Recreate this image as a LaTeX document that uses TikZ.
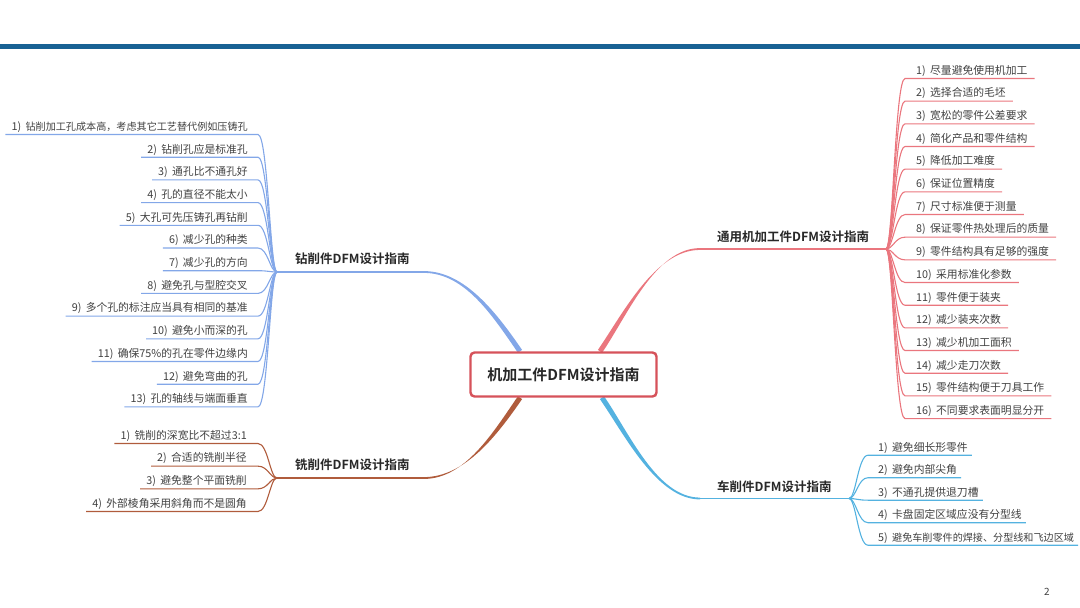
\documentclass[tikz,border=0pt]{standalone}
\usepackage{fontspec}
\setmainfont{Noto Sans CJK SC}[BoldFont={Noto Sans CJK SC Bold}]
\usetikzlibrary{calc,backgrounds}
\definecolor{barblue}{RGB}{24,98,148}
\definecolor{cblue}{RGB}{131,167,232}
\definecolor{cbrown}{RGB}{176,92,60}
\definecolor{cpink}{RGB}{234,118,126}
\definecolor{ccyan}{RGB}{84,178,224}
\definecolor{rootred}{RGB}{214,82,90}
\definecolor{itemgray}{RGB}{64,64,64}
\definecolor{lblgray}{RGB}{40,40,40}
% tapered branch: #1 start, #2 control 1, #3 control 2, #4 end, #5 start half-width offset, #6 colour
\newcommand\taper[6]{%
  \fill[#6] ($(#1)+#5$) .. controls ($(#2)+#5$) and ($(#3)+(0,-0.9)$) .. ($(#4)+(0,-0.9)$)
    -- ($(#4)+(0,0.9)$) .. controls ($(#3)+(0,0.9)$) and ($(#2)-#5$) .. ($(#1)-#5$) -- cycle;}
\newcommand\nm[1]{#1)\hspace{.4em}}
\newcommand\smtxt{\fontsize{10.1}{13}\selectfont}
\begin{document}
\begin{tikzpicture}[x=1pt,y=-1pt,
  item/.style={font=\fontsize{10.8}{13}\selectfont, text=itemgray, inner sep=0pt},
  lbl/.style={font=\fontsize{12.5}{15}\selectfont\bfseries, text=lblgray, inner sep=0pt},
  rootbox/.style={draw=rootred, line width=2.4pt, rounded corners=4pt, fill=white,
    minimum width=186pt, minimum height=44pt, inner sep=0pt,
    font=\fontsize{15}{18}\selectfont\bfseries, text=lblgray},
  sub/.style={line width=1.1pt},
  stemline/.style={line width=1.6pt}]
\useasboundingbox (0,0) rectangle (1080,608);
\fill[barblue] (0,43.5) rectangle (1080,49);

% root
\node[rootbox] (root) at (563.5,374.5) {机加工件DFM设计指南};
\coordinate (tls) at ($(root.north)+(-43.5,0)$);
\coordinate (trs) at ($(root.north)+(36.5,0)$);
\coordinate (bls) at ($(root.south)+(-43.5,0)$);
\coordinate (brs) at ($(root.south)+(38.5,0)$);

% branch labels
\node[lbl, anchor=base west] (tl) at (295,263.5) {钻削件DFM设计指南};
\node[lbl, anchor=base west] (bl) at (295,469.5) {铣削件DFM设计指南};
\node[lbl, anchor=base west] (tr) at (717,241.5) {通用机加工件DFM设计指南};
\node[lbl, anchor=base west] (br) at (717,491.5) {车削件DFM设计指南};

\coordinate (tlj) at (424,272);   \coordinate (tlstem) at (277,272);
\coordinate (blj) at (424,478);   \coordinate (blstem) at (277,478);
\coordinate (trj) at (700,249);   \coordinate (trstem) at (886,249);
\coordinate (brj) at (700,498.5); \coordinate (brstem) at (849,498.5);

\begin{scope}[on background layer]
  \taper{tls}{495,315}{465,272}{tlj}{(2.07,-1.4)}{cblue}
  \taper{bls}{495,434}{465,478}{blj}{(2.07,1.4)}{cbrown}
  \taper{trs}{625,315}{655,249}{trj}{(2.07,1.4)}{cpink}
  \taper{brs}{627,434}{657,498.5}{brj}{(2.07,-1.4)}{ccyan}
\end{scope}
\draw[cblue, stemline] (tlj) -- (tlstem);
\draw[cbrown, stemline] (blj) -- (blstem);
\draw[cpink, stemline] (trj) -- (trstem);
\draw[ccyan, stemline] (brj) -- (brstem);

% left top list
\foreach \t [count=\i] in {{\smtxt 钻削加工孔成本高，考虑其它工艺替代例如压铸孔},钻削孔应是标准孔,通孔比不通孔好,孔的直径不能太小,大孔可先压铸孔再钻削,减少孔的种类,减少孔的方向,避免孔与型腔交叉,多个孔的标注应当具有相同的基准,避免小而深的孔,确保75\%的孔在零件边缘内,避免弯曲的孔,孔的轴线与端面垂直} {
  \node[item, anchor=base east] (lt\i) at (248,{126+(\i-1)*22.7+4.3}) {\nm{\i}\t};
  \coordinate (ltu\i) at ($(lt\i.base east)+(10,4.2)$);
  \draw[cblue, sub] (tlstem) .. controls +(-7,0) and +(10,0) .. (ltu\i) -- ($(lt\i.base west)+(-6,4.2)$);
}

% left bottom list
\foreach \t [count=\i] in {铣削的深宽比不超过3:1,合适的铣削半径,避免整个平面铣削,外部棱角采用斜角而不是圆角} {
  \node[item, anchor=base east] (lb\i) at (247,{435+(\i-1)*22.67+4.3}) {\nm{\i}\t};
  \coordinate (lbu\i) at ($(lb\i.base east)+(11,4.2)$);
  \draw[cbrown, sub] (blstem) .. controls +(-7,0) and +(10,0) .. (lbu\i) -- ($(lb\i.base west)+(-6,4.2)$);
}

% right top list
\foreach \t [count=\i] in {尽量避免使用机加工,选择合适的毛坯,宽松的零件公差要求,简化产品和零件结构,降低加工难度,保证位置精度,尺寸标准便于测量,保证零件热处理后的质量,零件结构具有足够的强度,采用标准化参数,零件便于装夹,减少装夹次数,减少机加工面积,减少走刀次数,零件结构便于刀具工作,不同要求表面明显分开} {
  \node[item, anchor=base west] (rt\i) at (916,{70+(\i-1)*22.67+4.3}) {\nm{\i}\t};
  \coordinate (rtu\i) at ($(rt\i.base west)+(-11,4.2)$);
  \draw[cpink, sub] (trstem) .. controls +(7,0) and +(-10,0) .. (rtu\i) -- ($(rt\i.base east)+(7,4.2)$);
}

% right bottom list
\foreach \t [count=\i] in {避免细长形零件,避免内部尖角,不通孔提供退刀槽,卡盘固定区域应没有分型线,{\smtxt 避免车削零件的焊接、分型线和飞边区域}} {
  \node[item, anchor=base west] (rb\i) at (878,{446.7+(\i-1)*22.5+4.3}) {\nm{\i}\t};
  \coordinate (rbu\i) at ($(rb\i.base west)+(-10,4.2)$);
  \draw[ccyan, sub] (brstem) .. controls +(7,0) and +(-10,0) .. (rbu\i) -- ($(rb\i.base east)+(4,4.2)$);
}

\node[font=\fontsize{10}{12}\selectfont, text=darkgray, inner sep=0pt] (pg) at (1047,592) {2};
\end{tikzpicture}
\end{document}
